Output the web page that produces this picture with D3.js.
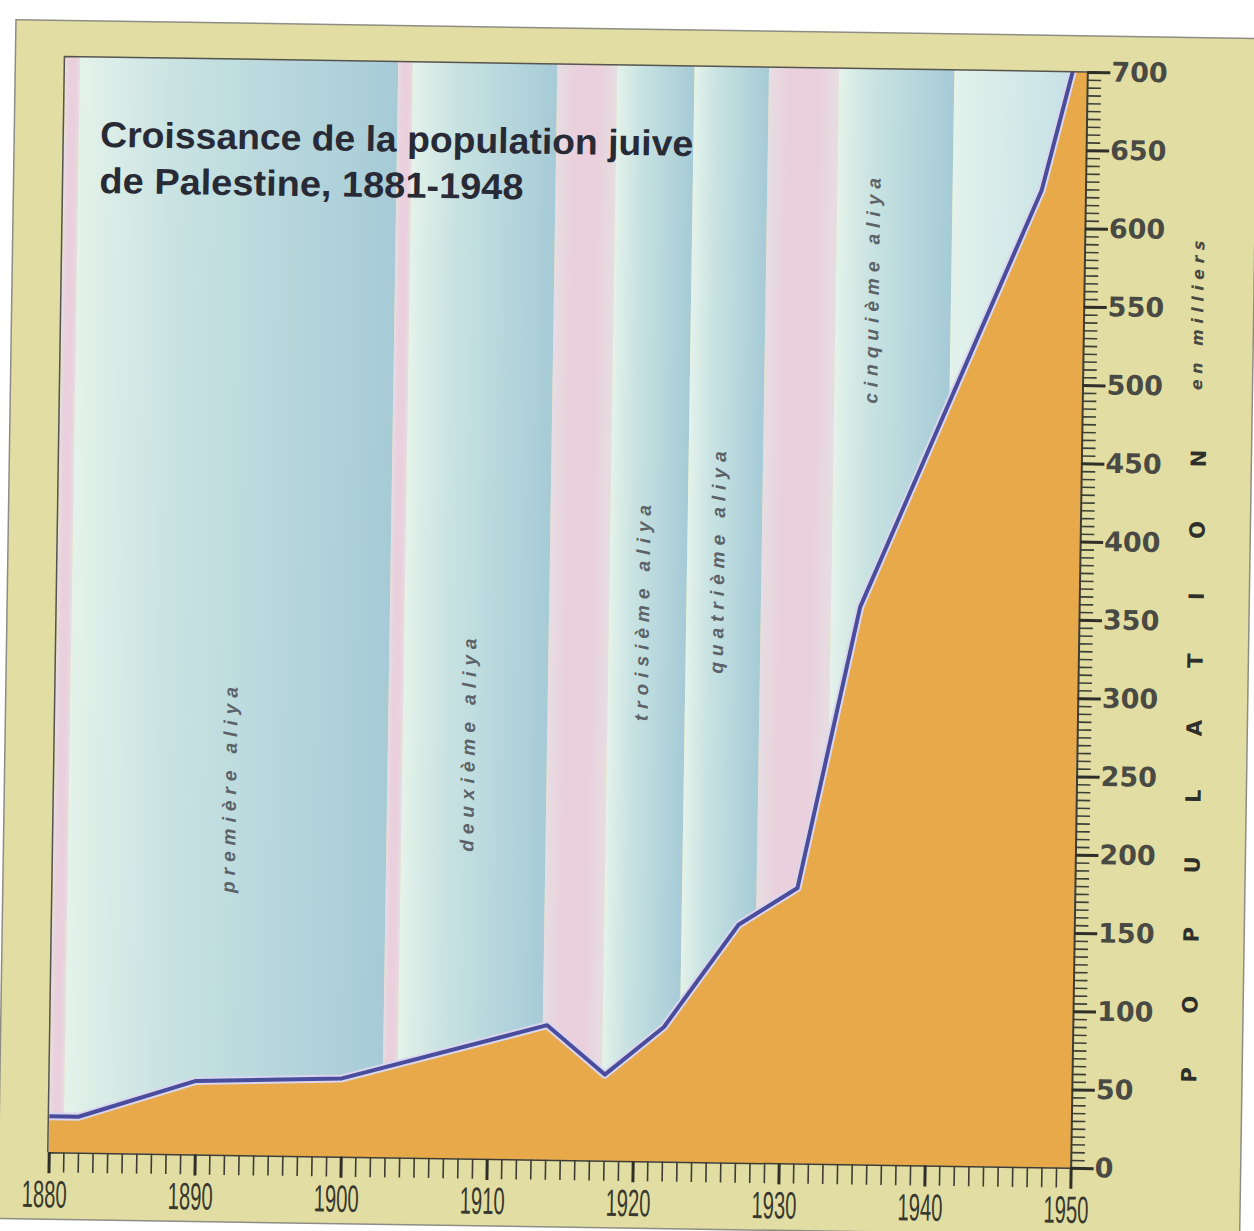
<!DOCTYPE html>
<html><head><meta charset="utf-8">
<script src="https://cdn.jsdelivr.net/npm/d3@7"></script>
<style>body{margin:0;background:#fff}svg{display:block}</style>
</head><body>
<svg id="chart" width="1254" height="1231"></svg>
<script>
// ---------- data ----------
const years      = [1880, 1882, 1890, 1900, 1914, 1918, 1922, 1927, 1931, 1935, 1947, 1949];
const population = [23,   23,   47,   50,   86,   55,   86,   152,  176,  356,  624,  700];

const bandStarts = [1880, 1881, 1902.8, 1903.8, 1913.7, 1917.8, 1923.1, 1928.2, 1933,   1940.9];
const bandEnds   = [1881, 1902.8, 1903.8, 1913.7, 1917.8, 1923.1, 1928.2, 1933, 1940.9, 1950];
const bandKinds  = ["pink","aliya","pink","aliya","pink","aliya","aliya","pink","aliya","late"];
const bandNames  = ["","première aliya","","deuxième aliya","","troisième aliya","quatrième aliya","","cinquième aliya",""];

const xTickYears  = d3.range(1880, 1951, 10);
const yTickValues = d3.range(0, 701, 50);
const titleLines  = ["Croissance de la population juive", "de Palestine, 1881-1948"];
const axisTitle   = "POPULATION";
const unitLabel   = "en milliers";

// ---------- layout ----------
const W = 1254, H = 1231;
const x = d3.scaleLinear().domain([1880, 1950]).range([57, 1079]);
const y = d3.scaleLinear().domain([0, 700]).range([1161, 65]);
// label anchors (year, population level) for the aliya names
const labelAnchorYear  = {1: 1892, 3: 1908.3, 5: 1920.1, 6: 1925.2, 8: 1935.5};
const labelAnchorLevel = {1: 235,  3: 266,    5: 352,    6: 385,    8: 560};

const svg = d3.select("#chart");
svg.append("rect").attr("width", W).attr("height", H).attr("fill", "#ffffff");

const defs = svg.append("defs");
const gA = defs.append("linearGradient").attr("id", "gAliya");
gA.append("stop").attr("offset", "0").attr("stop-color", "#e4f2ea");
gA.append("stop").attr("offset", "0.3").attr("stop-color", "#c9e3e2");
gA.append("stop").attr("offset", "1").attr("stop-color", "#a6cbd7");
const gL = defs.append("linearGradient").attr("id", "gLate");
gL.append("stop").attr("offset", "0").attr("stop-color", "#e3f2eb");
gL.append("stop").attr("offset", "1").attr("stop-color", "#c2dfe5");
const gP = defs.append("linearGradient").attr("id", "gPink");
gP.append("stop").attr("offset", "0").attr("stop-color", "#e6dde2");
gP.append("stop").attr("offset", "0.3").attr("stop-color", "#ead0dc");
gP.append("stop").attr("offset", "0.7").attr("stop-color", "#ead0dc");
gP.append("stop").attr("offset", "1").attr("stop-color", "#e6dde2");

// whole sheet, slightly rotated like the photographed page
const g = svg.append("g").attr("transform", "rotate(0.87 627 615)");

// outer beige frame
g.append("rect").attr("x", 7).attr("y", 29).attr("width", 1242).attr("height", 1199)
  .attr("fill", "#e2dea3").attr("stroke", "#8e8d84").attr("stroke-width", 1.5);

// bands
const fills = {pink: "url(#gPink)", aliya: "url(#gAliya)", late: "url(#gLate)"};
g.append("g").selectAll("rect").data(bandStarts).join("rect")
  .attr("x", (d, i) => x(d))
  .attr("y", y(700))
  .attr("width", (d, i) => x(bandEnds[i]) - x(d))
  .attr("height", y(0) - y(700))
  .attr("fill", (d, i) => fills[bandKinds[i]]);

// aliya labels
g.append("g").selectAll("text").data(bandNames.map((n, i) => ({n, i})).filter(d => d.n))
  .join("text")
  .attr("transform", d => `translate(${x(labelAnchorYear[d.i])},${y(labelAnchorLevel[d.i])}) rotate(-90)`)
  .attr("text-anchor", "middle").attr("dy", "0.35em")
  .attr("font-family", "'Liberation Sans', Arial, sans-serif")
  .attr("font-style", "italic").attr("font-weight", "bold").attr("font-size", 19)
  .attr("letter-spacing", 6)
  .attr("fill", "#5c6368")
  .text(d => d.n);

// area + line
const pts = years.map((yr, i) => [yr, population[i]]);
g.append("path")
  .attr("d", d3.area().x(d => x(d[0])).y0(y(0)).y1(d => y(d[1]))(pts.concat([[1950, 700]])))
  .attr("fill", "#e8a94b");
const line = d3.line().x(d => x(d[0])).y(d => y(d[1]));
g.append("path").attr("d", line(pts)).attr("fill", "none")
  .attr("stroke", "#d9d6ee").attr("stroke-width", 8).attr("stroke-linejoin", "round");
g.append("path").attr("d", line(pts)).attr("fill", "none")
  .attr("stroke", "#4a4c9c").attr("stroke-width", 4).attr("stroke-linejoin", "round");

// panel border (top / left)
g.append("path")
  .attr("d", `M${x(1880) - 1},${y(0)} V${y(700)} H${x(1950)}`)
  .attr("fill", "none").attr("stroke", "#55544e").attr("stroke-width", 1.5);

// x axis
const xMinor = g.append("g").attr("transform", `translate(0,${y(0)})`)
  .call(d3.axisBottom(x).tickValues(d3.range(1880, 1951, 1)).tickSize(20).tickFormat(""));
xMinor.selectAll("line").attr("stroke", "#3d3d35").attr("stroke-width", 1.6);
xMinor.select(".domain").attr("stroke", "#3d3d35").attr("stroke-width", 1.5);
const xMajor = g.append("g").attr("transform", `translate(0,${y(0)})`)
  .call(d3.axisBottom(x).tickValues(xTickYears).tickSize(21).tickFormat(""));
xMajor.selectAll("line").attr("stroke", "#2f2f29").attr("stroke-width", 3);
xMajor.select(".domain").remove();
g.append("g").selectAll("text").data(xTickYears).join("text")
  .attr("x", d => x(d) - 4).attr("y", 1216)
  .attr("text-anchor", "middle")
  .attr("font-family", "'Liberation Sans Narrow', 'Liberation Sans', Arial, sans-serif")
  .attr("font-size", 38).attr("fill", "#38382f")
  .attr("textLength", 45).attr("lengthAdjust", "spacingAndGlyphs")
  .text(d => d);

// y axis (right)
const yMinor = g.append("g").attr("transform", `translate(${x(1950)},0)`)
  .call(d3.axisRight(y).tickValues(d3.range(0, 701, 5)).tickSize(14).tickFormat(""));
yMinor.selectAll("line").attr("stroke", "#3d3d35").attr("stroke-width", 1.6);
yMinor.select(".domain").attr("stroke", "#3d3d35").attr("stroke-width", 2);
const yMajor = g.append("g").attr("transform", `translate(${x(1950)},0)`)
  .call(d3.axisRight(y).tickValues(yTickValues).tickSize(23).tickPadding(1));
yMajor.selectAll("line").attr("stroke", "#2f2f29").attr("stroke-width", 3);
yMajor.select(".domain").remove();
yMajor.selectAll("text")
  .attr("font-family", "'DejaVu Sans', sans-serif").attr("font-weight", "bold")
  .attr("font-size", 27).attr("fill", "#4a4a44");

// vertical axis titles
g.append("text")
  .attr("transform", `translate(1196,1074) rotate(-90)`)
  .attr("text-anchor", "start").attr("dy", "0.35em")
  .attr("font-family", "'DejaVu Sans', sans-serif").attr("font-weight", "bold")
  .attr("font-size", 21).attr("letter-spacing", 53.5).attr("fill", "#2e2e2a")
  .text(axisTitle);
g.append("text")
  .attr("transform", `translate(1193,304) rotate(-90)`)
  .attr("text-anchor", "middle").attr("dy", "0.35em")
  .attr("font-family", "'DejaVu Sans', sans-serif").attr("font-style", "italic")
  .attr("font-weight", "bold")
  .attr("font-size", 16).attr("letter-spacing", 5.5).attr("fill", "#4a4a42")
  .text(unitLabel);

// title
const titleLens = [593, 424];
g.append("g").selectAll("text").data(titleLines).join("text")
  .attr("x", 93).attr("y", (d, i) => 155 + i * 46)
  .attr("font-family", "'Liberation Sans Narrow', 'Liberation Sans', Arial, sans-serif")
  .attr("font-weight", "bold").attr("font-size", 36).attr("fill", "#282a36")
  .attr("textLength", (d, i) => titleLens[i]).attr("lengthAdjust", "spacingAndGlyphs")
  .text(d => d);
</script>
</body></html>
